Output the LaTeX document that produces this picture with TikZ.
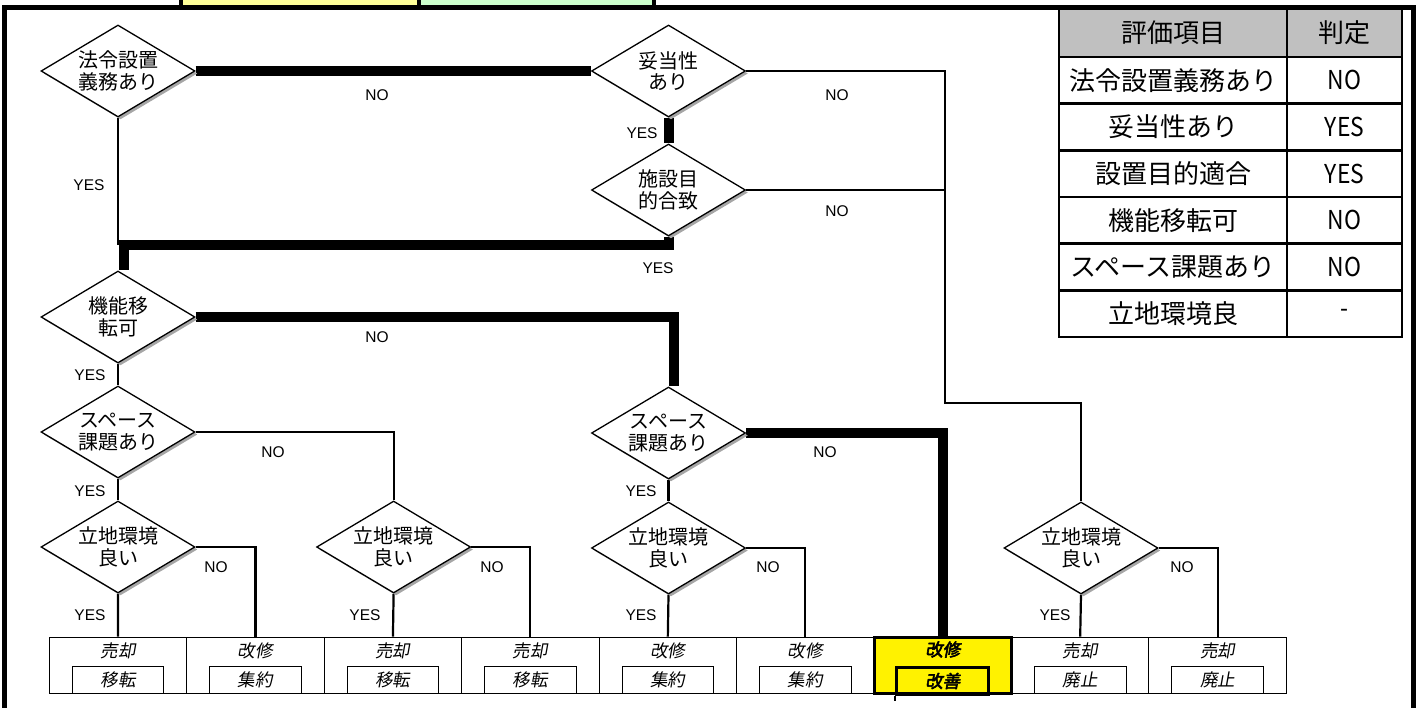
\documentclass[tikz,border=0pt]{standalone}
\usepackage{fontspec}
\usepackage{graphicx}
\setmainfont{Liberation Sans}
\newfontfamily\jp{Noto Sans CJK JP}
\newfontfamily\jpit{Noto Sans CJK JP}[FakeSlant=0.18]
\newfontfamily\jpitb{Noto Sans CJK JP}[FakeSlant=0.18,FakeBold=3]
\usetikzlibrary{shapes.geometric,shadows,backgrounds,calc}
\definecolor{paleyellow}{HTML}{FFFF99}
\definecolor{palegreen}{HTML}{CCFFCC}
\definecolor{hdrgray}{HTML}{C0C0C0}
\begin{document}
\begin{tikzpicture}[x=1pt,y=-1pt,
  dia/.style={diamond, aspect=1.67, draw, line width=1.3pt, fill=white, minimum width=154pt, minimum height=92pt, inner sep=0pt, align=center, font=\jp\fontsize{20}{21.5}\selectfont, drop shadow={opacity=1, fill=black!35, shadow xshift=2.5pt, shadow yshift=-2.5pt}},
  lbl/.style={inner sep=0pt, font=\fontsize{15.5}{17}\selectfont},
  conn/.style={line width=2.2pt},
  thk/.style={line width=10pt},
  bx/.style={draw, line width=0.9pt, minimum width=137.45pt, minimum height=56pt, inner sep=0pt},
  bin/.style={draw, line width=0.9pt, minimum width=91.6pt, minimum height=27pt, inner sep=0pt, font=\jpit\fontsize{17.5}{19}\selectfont},
  btxt/.style={inner sep=0pt, font=\jpit\fontsize{17.5}{19}\selectfont},
  cell/.style={draw, line width=2.6pt, inner sep=0pt, font=\jp\fontsize{26}{28}\selectfont},
]
\useasboundingbox (0,0) rectangle (1423,708);

% top tabs
\draw[line width=4pt, fill=paleyellow] (181,-20) rectangle (419,7.5);
\draw[line width=4pt, fill=palegreen] (419,-20) rectangle (653.5,7.5);

% frame
\draw[line width=5pt] (4.5,720) -- (4.5,7.5) -- (1413,7.5) -- (1413,720);

% diamonds
\node[dia] (D1) at (118,71) {法令設置\\義務あり};
\node[dia] (D2) at (668.5,71) {妥当性\\あり};
\node[dia] (D3) at (668.5,190) {施設目\\的合致};
\node[dia] (D4) at (118,317) {機能移\\転可};
\node[dia] (D5a) at (118,432) {スペース\\課題あり};
\node[dia] (D5b) at (668.5,433) {スペース\\課題あり};
\node[dia] (D6a) at (118,547) {立地環境\\良い};
\node[dia] (D6b) at (393.6,547) {立地環境\\良い};
\node[dia] (D6c) at (668.5,548) {立地環境\\良い};
\node[dia] (D6d) at (1081,548) {立地環境\\良い};

% result boxes
\foreach \i/\a/\b in {1/売却/移転,2/改修/集約,3/売却/移転,4/売却/移転,5/改修/集約,6/改修/集約,8/売却/廃止,9/売却/廃止}{
  \node[bx] (b\i) at ({49.3+137.45*(\i-0.5)},665) {};
  \node[btxt] (t\i) at ($(b\i.north)+(0,14)$) {\a};
  \node[bin] (i\i) at ($(b\i.south)+(0,-13.5)$) {\b};
}
\node[bx, fill=yellow, line width=3pt] (b7) at ({49.3+137.45*6.5},665) {};
\node[btxt, font=\jpitb\fontsize{17.5}{19}\selectfont] (t7) at ($(b7.north)+(0,14)$) {改修};
\node[bin, line width=3pt, font=\jpitb\fontsize{17.5}{19}\selectfont] (i7) at ($(b7.south)+(0,-13.5)$) {改善};
\draw[line width=2pt] (i7.south west) -- ++(0,5);

% table
\node[cell, fill=hdrgray, minimum width=228pt, minimum height=48pt] (h1) at (1173,33) {評価項目};
\node[cell, fill=hdrgray, minimum width=115pt, minimum height=48pt] (h2) at (1344.5,33) {判定};
\foreach \k/\a/\b in {1/法令設置義務あり/NO,2/妥当性あり/YES,3/設置目的適合/YES,4/機能移転可/NO,5/スペース課題あり/NO,6/立地環境良/-}{
  \node[cell, minimum width=228pt, minimum height=46.67pt] (r\k a) at (1173,{57+46.67*(\k-0.5)}) {\a};
  \node[cell, minimum width=115pt, minimum height=46.67pt] (r\k b) at (1344.5,{57+46.67*(\k-0.5)}) {\scalebox{0.88}[1]{\b}};
}

% labels
\node[lbl] (n1) at (377,95) {NO};
\node[lbl] (n2) at (837,95) {NO};
\node[lbl] (y1) at (642,133) {YES};
\node[lbl] (n3) at (837,211) {NO};
\node[lbl] (y2) at (658,268) {YES};
\node[lbl] (y3) at (89,185) {YES};
\node[lbl] (n4) at (377,337) {NO};
\node[lbl] (y4) at (90,375) {YES};
\node[lbl] (n5) at (273,452) {NO};
\node[lbl] (y5) at (90,491) {YES};
\node[lbl] (n6) at (216,567) {NO};
\node[lbl] (y6) at (90,615) {YES};
\node[lbl] (n7) at (492,567) {NO};
\node[lbl] (y7) at (365,615) {YES};
\node[lbl] (n8) at (825,452) {NO};
\node[lbl] (y8) at (641,491) {YES};
\node[lbl] (n9) at (768,567) {NO};
\node[lbl] (y9) at (641,615) {YES};
\node[lbl] (n10) at (1182,567) {NO};
\node[lbl] (y10) at (1055,615) {YES};

\coordinate (j1) at (945,403);
\coordinate (k1) at (123.5,245);
\coordinate (k2) at (673.5,313);

\begin{pgfonlayer}{background}
  % thick path
  \draw[thk] (D1.east) -- (D1.east -| D2.west);
  \draw[thk] (D2.south) -- (D3.north);
  \draw[thk] (D3.south) |- (k1) -- (k1 |- D4.north);
  \draw[thk] (D4.east) -- (D4.east -| k2) -- (k2 |- D5b.north);
  \draw[thk] (D5b.east) -| (b7.north);
  % thin connectors
  \draw[conn] (D1.south) -- (D1.south |- k1);
  \draw[conn] (D2.east) -- (D2.east -| j1) -- (j1) -| (D6d.north);
  \draw[conn] (D3.east) -- (D3.east -| j1);
  \draw[conn] (D4.south) -- (D5a.north);
  \draw[conn] (D5a.south) -- (D6a.north);
  \draw[conn] (D5a.east) -| (D6b.north);
  \draw[conn] (D6a.south) -- (b1.north);
  \draw[conn] (D6a.east) -| (b2.north);
  \draw[conn] (D6b.south) -- (b3.north);
  \draw[conn] (D6b.east) -| (b4.north);
  \draw[conn] (D5b.south) -- (D6c.north);
  \draw[conn] (D6c.south) -- (b5.north);
  \draw[conn] (D6c.east) -| (b6.north);
  \draw[conn] (D6d.south) -- (b8.north);
  \draw[conn] (D6d.east) -| (b9.north);
\end{pgfonlayer}
\end{tikzpicture}
\end{document}
